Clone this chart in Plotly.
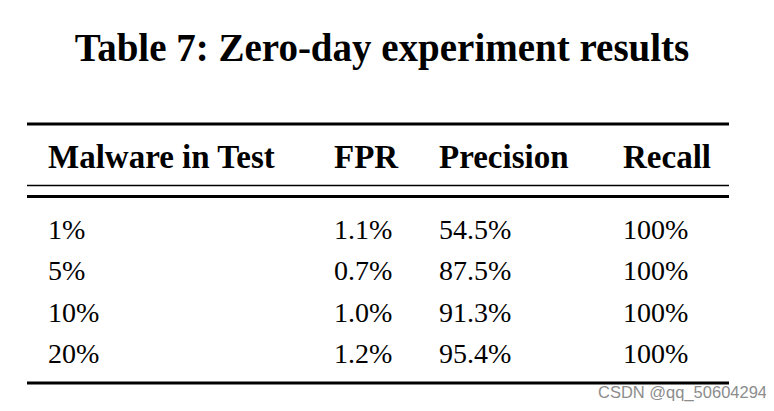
import plotly.graph_objects as go

W, H = 774, 411
# the page body adds an 8px margin round the figure; positions below are page pixels
OFF = 8

title = "Table 7: Zero-day experiment results"
columns = ["Malware in Test", "FPR", "Precision", "Recall"]
malware_in_test = ["1%", "5%", "10%", "20%"]
fpr = ["1.1%", "0.7%", "1.0%", "1.2%"]
precision = ["54.5%", "87.5%", "91.3%", "95.4%"]
recall = ["100%", "100%", "100%", "100%"]

SERIF = "Liberation Serif"


def px(x):
    return (x - OFF) / W


def py(y):
    return 1 - (y - OFF) / H


fig = go.Figure(
    go.Table(
        domain={"x": [px(40), px(729)], "y": [py(382), py(135)]},
        columnwidth=[286, 105, 184, 114],
        header={
            "values": columns,
            "align": "left",
            "height": 75,
            "fill_color": "white",
            "line_color": "rgba(0,0,0,0)",
            "font": {"family": SERIF, "size": 33, "color": "black", "weight": "bold"},
        },
        cells={
            "values": [malware_in_test, fpr, precision, recall],
            "align": "left",
            "height": 41.3,
            "fill_color": "white",
            "line_color": "rgba(0,0,0,0)",
            "font": {"family": SERIF, "size": 28, "color": "black"},
        },
    )
)

# booktabs style rules
rules = [(124, 3), (185.5, 1.6), (196.5, 3), (383, 3)]
for y, w in rules:
    fig.add_shape(
        type="line", xref="paper", yref="paper",
        x0=px(27), x1=px(729), y0=py(y), y1=py(y),
        line={"color": "black", "width": w},
    )

fig.add_annotation(
    text="CSDN @qq_50604294", xref="paper", yref="paper",
    x=px(769), y=py(392), xanchor="right", yanchor="middle", showarrow=False,
    font={"family": "Liberation Sans", "size": 16.5, "color": "#8c8c8c"},
)

fig.update_layout(
    width=W, height=H,
    margin={"l": 0, "r": 0, "t": 0, "b": 0},
    paper_bgcolor="white",
    title={
        "text": title, "x": px(382), "xanchor": "center",
        "y": py(47), "yanchor": "middle", "yref": "container",
        "font": {"family": SERIF, "size": 39, "color": "black", "weight": "bold"},
    },
)

fig.write_html("out.html")
